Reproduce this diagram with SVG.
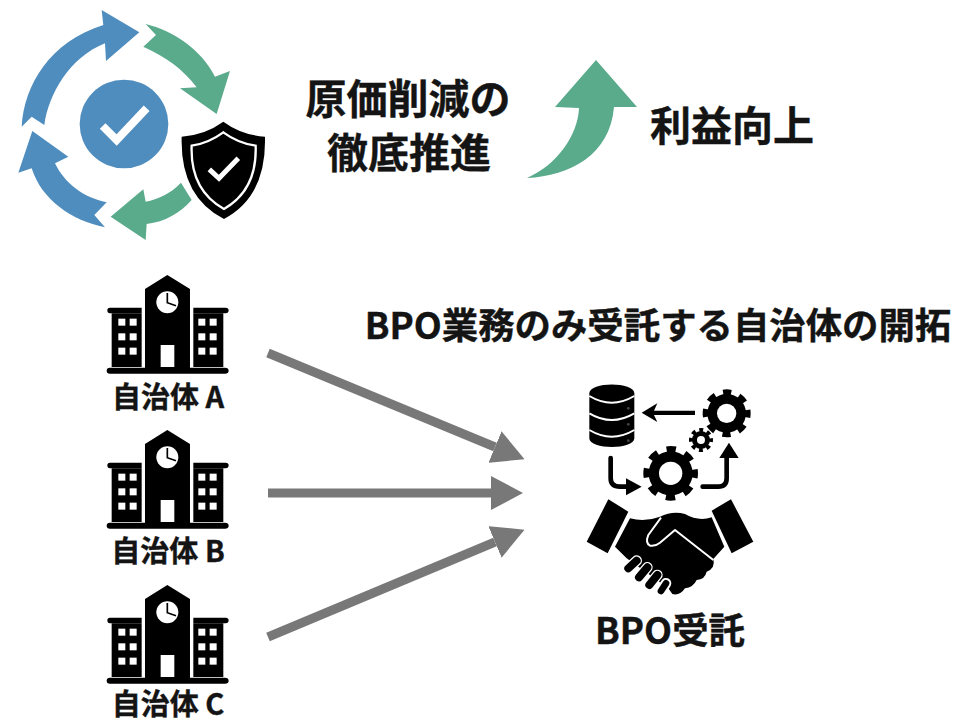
<svg xmlns="http://www.w3.org/2000/svg" width="957" height="721" viewBox="0 0 957 721">
<style>
text{font-family:"Noto Sans CJK JP","Noto Sans",sans-serif;font-weight:700;fill:#141414;stroke:#141414;stroke-width:.4;text-anchor:middle}
.t1{font-size:41px}.t2{font-size:36.4px}.t3{font-size:29px}
.blue{fill:#4f8dbe}.green{fill:#5aaa8c}
.conn{stroke:#787879;stroke-width:9;fill:none;marker-end:url(#ah)}
.k{fill:#000}.w{fill:#fff}
</style>
<defs>
<marker id="ah" markerUnits="userSpaceOnUse" markerWidth="32" markerHeight="34" refX="0" refY="17" orient="auto" viewBox="0 0 32 34"><path d="M0 0L32 17L0 34Z" fill="#787879"/></marker>
<g id="school">
<path class="k" d="M165 72L232 30L300 72V310H165Z"/>
<path class="k" d="M60 128H155V145H65V308H400V145H310V128H407Q416 128 416 136Q416 145 407 145H400V308H405Q416 308 416 317Q416 326 405 326H60Q50 326 50 317Q50 308 60 308H65V145H60Q52 145 52 136Q52 128 60 128Z"/>
<path class="k" d="M65 145H155V306H65Z"/><path class="k" d="M310 145H400V306H310Z"/>
<circle class="w" cx="232" cy="112" r="33"/>
<path d="M232 84V113L258 122" fill="none" stroke="#000" stroke-width="5"/>
<rect class="w" x="212" y="240" width="41" height="66"/>
<g class="w"><rect x="85" y="161" width="21" height="21"/><rect x="119" y="161" width="21" height="21"/><rect x="85" y="205" width="21" height="21"/><rect x="119" y="205" width="21" height="21"/><rect x="85" y="248" width="21" height="21"/><rect x="119" y="248" width="21" height="21"/><rect x="325" y="161" width="21" height="21"/><rect x="359" y="161" width="21" height="21"/><rect x="325" y="205" width="21" height="21"/><rect x="359" y="205" width="21" height="21"/><rect x="325" y="248" width="21" height="21"/><rect x="359" y="248" width="21" height="21"/></g>
</g>
</defs>
<rect width="957" height="721" fill="#fff"/>
<g id="cycle-icon" transform="scale(.3333)">
<path class="blue" d="M65 380C72 255 150 125 310 75L305 30L418 97L318 183L315 130C208 172 145 285 133 375L95 350Z"/>
<path class="green" d="M437 72C520 92 605 150 645 230L690 213L650 342L540 265L590 262C552 210 498 170 430 140L468 105Z"/>
<path class="green" d="M543 548C510 582 475 597 437 605L430 568L332 650L437 720L440 672C495 665 540 640 575 600Z"/>
<path class="blue" d="M97 393L205 470L165 490C195 552 250 592 320 607L283 645L315 682C215 662 125 600 95 505L55 518Z"/>
<circle class="blue" cx="372" cy="372" r="133"/>
<path d="M308 378L350 420L440 325" fill="none" stroke="#fff" stroke-width="24"/>
</g>
<g id="shield-icon" transform="scale(.3333)">
<path class="k" d="M670 365Q725 405 795 410Q800 590 672 657Q540 590 545 410Q615 405 670 365Z"/>
<path d="M670 397Q715 430 767 437Q772 570 672 627Q570 570 575 437Q625 430 670 397Z" fill="none" stroke="#fff" stroke-width="7"/>
<path d="M628 508L657 535L715 475" fill="none" stroke="#fff" stroke-width="15"/>
</g>
<g id="title-cost"><text class="t1" x="408" y="114">原価削減の</text><text class="t1" x="409" y="168">徹底推進</text></g>
<g id="up-arrow"><path class="green" d="M527 178C557 165 578 135 579 108L555 107L596 60L637 107L614 107C610 155 570 176 527 178Z"/></g>
<g id="title-profit"><text class="t1" x="732" y="141">利益向上</text></g>
<g id="title-bpo"><text class="t2" x="658" y="339">BPO業務のみ受託する自治体の開拓</text></g>
<g id="school-a"><use href="#school" transform="translate(90 265) scale(.3333)"/><text class="t3" x="168" y="408">自治体 A</text></g>
<g id="school-b"><use href="#school" transform="translate(90 420) scale(.3333)"/><text class="t3" x="168" y="562">自治体 B</text></g>
<g id="school-c"><use href="#school" transform="translate(90 575) scale(.3333)"/><text class="t3" x="168" y="715">自治体 C</text></g>
<g id="connectors">
<path class="conn" d="M268 353L495 447"/>
<path class="conn" d="M268 493H491"/>
<path class="conn" d="M268 637L495 542"/>
</g>
<g id="bpo-icon" transform="translate(570 370) scale(.3333)">
<path class="k" d="M58 70C58 35 193 35 193 70V205C193 240 58 240 58 205Z"/>
<path d="M58 78Q125 118 193 78M58 130Q125 170 193 130M58 180Q125 220 193 180" fill="none" stroke="#fff" stroke-width="6"/>
<g fill="#444"><circle cx="175" cy="115" r="4"/><circle cx="175" cy="163" r="4"/><circle cx="175" cy="212" r="4"/></g>
<path class="k" d="M215 128L262 100L252 122H375V135H252L262 156Z"/>
<g class="k"><circle cx="470" cy="130" r="58"/><circle cx="302" cy="310" r="66"/><circle cx="393" cy="210" r="27"/></g>
<circle cx="470" cy="130" r="62" pathLength="16" stroke-dasharray="1 1" stroke-dashoffset=".5" fill="none" stroke="#000" stroke-width="20"/>
<circle cx="302" cy="310" r="70" pathLength="16" stroke-dasharray="1 1" stroke-dashoffset=".5" fill="none" stroke="#000" stroke-width="24"/>
<circle cx="393" cy="210" r="29" pathLength="16" stroke-dasharray="1 1" stroke-dashoffset=".5" fill="none" stroke="#000" stroke-width="14"/>
<g class="w"><circle cx="470" cy="130" r="29"/><circle cx="302" cy="310" r="35"/><circle cx="393" cy="210" r="12"/></g>
<path d="M122 264V325Q122 350 150 350H175" fill="none" stroke="#000" stroke-width="14" stroke-linecap="round"/>
<path class="k" d="M215 350L168 325V376Z"/>
<path d="M398 350H445Q470 350 470 325V258" fill="none" stroke="#000" stroke-width="14" stroke-linecap="round"/>
<path class="k" d="M477 218L448 264H506Z"/>
</g>
<g id="handshake-icon" transform="translate(585 490) scale(.3333)">
<path class="k" d="M70 28L130 65L68 190L5 155Z"/>
<path class="k" d="M438 28L505 155L440 190L380 62Z"/>
<path class="k" d="M135 85Q180 97 225 80Q262 62 300 72Q340 95 380 82L418 170L385 207Q392 235 365 245Q360 268 335 270Q325 292 300 295Q285 318 262 312L250 295L125 205L90 170Z"/>
<path d="M228 83L190 135Q180 160 195 167Q210 170 225 158L270 120L385 210" fill="none" stroke="#fff" stroke-width="6" stroke-linejoin="round"/>
<g stroke-linecap="round" fill="none">
<g stroke="#fff" stroke-width="32"><path d="M130 235L155 212M162 262L187 232M193 285L217 255M228 303L243 280"/></g>
<g stroke="#000" stroke-width="24"><path d="M130 235L155 212M162 262L187 232M193 285L217 255"/></g>
<path d="M228 303L243 280" stroke="#000" stroke-width="20"/>
</g>
</g>
<g id="label-bpo"><text class="t2" x="670" y="644">BPO受託</text></g>
</svg>
